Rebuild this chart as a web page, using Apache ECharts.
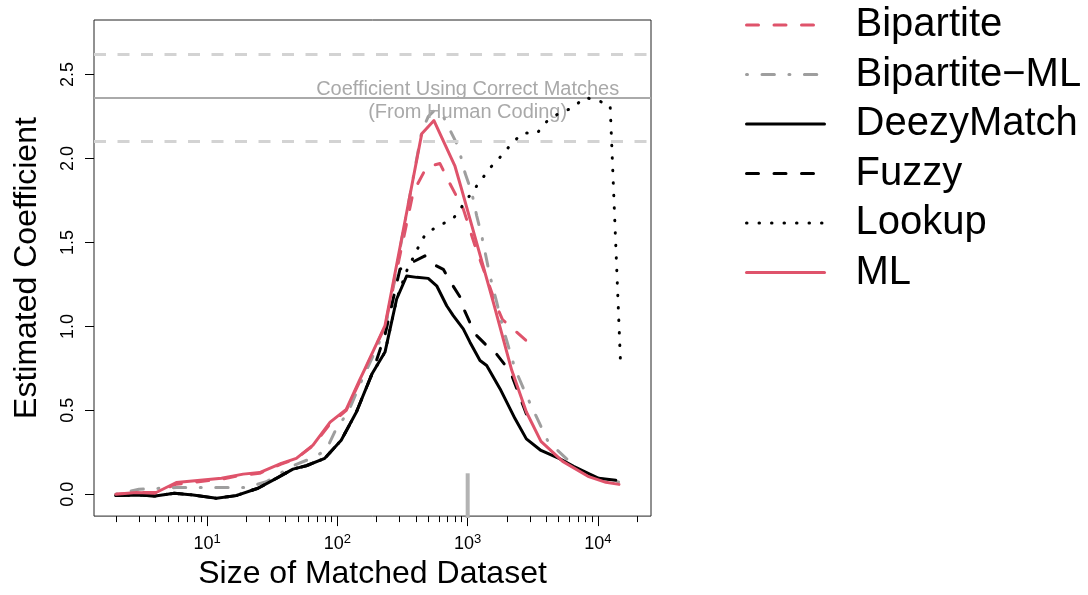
<!DOCTYPE html>
<html>
<head>
<meta charset="utf-8">
<script src="https://cdn.jsdelivr.net/npm/echarts@6/dist/echarts.min.js"></script>
<style>
  html, body { margin: 0; padding: 0; background: #fff; }
  #chart { width: 1088px; height: 595px; }
</style>
</head>
<body>
<div id="chart"></div>
<script>
// dataset size (x) and estimated coefficient (y)
const bipartiteSize = [2, 3, 4, 5.8, 12.9, 18.9, 25.3, 37, 48, 65, 88, 117, 148, 163, 232, 382, 485, 613, 731, 925, 1138, 1670, 1850, 3385];
const bipartiteCoef = [0, 0.01, 0.01, 0.06, 0.09, 0.115, 0.125, 0.18, 0.21, 0.29, 0.42, 0.5, 0.67, 0.74, 1.0, 1.8, 1.95, 1.97, 1.85, 1.7, 1.48, 1.12, 1.04, 0.86];

const bipMLSize = [2, 3, 5.8, 9.3, 20, 28.5, 45.6, 65, 82, 98, 121, 148, 232, 444, 498, 561, 650, 731, 847, 953, 1073, 1172, 1281, 1483, 1670, 1876, 2307, 2821, 4133, 6900, 10100, 17900];
const bipMLCoef = [0, 0.03, 0.04, 0.04, 0.04, 0.075, 0.17, 0.218, 0.263, 0.39, 0.49, 0.65, 0.98, 2.16, 2.25, 2.29, 2.25, 2.17, 2.07, 1.915, 1.8, 1.66, 1.54, 1.3, 1.144, 0.985, 0.748, 0.589, 0.315, 0.154, 0.095, 0.059];

const deezySize = [2, 2.9, 4, 5.6, 7.8, 11.8, 16.7, 24.6, 34, 45.6, 57.7, 80, 107, 140, 185, 232, 285, 340, 406, 498, 578, 690, 775, 925, 1041, 1243, 1399, 1770, 2307, 2820, 3652, 5020, 6500, 10100, 13700];
const deezyCoef = [-0.008, -0.004, -0.01, 0.006, -0.004, -0.024, -0.008, 0.036, 0.095, 0.15, 0.17, 0.214, 0.322, 0.49, 0.72, 0.847, 1.163, 1.3, 1.292, 1.286, 1.242, 1.123, 1.064, 0.985, 0.906, 0.797, 0.767, 0.629, 0.451, 0.33, 0.261, 0.214, 0.166, 0.095, 0.083];

const fuzzySize = [2, 2.9, 4, 5.6, 7.8, 11.8, 16.7, 24.6, 34, 45.6, 57.7, 80, 107, 140, 185, 232, 302, 330, 470, 514, 650, 731, 899, 925, 1073, 1172, 1399, 1620, 1992, 2176, 2850];
const fuzzyCoef = [-0.008, -0.004, -0.01, 0.006, -0.004, -0.024, -0.008, 0.036, 0.095, 0.15, 0.17, 0.214, 0.322, 0.49, 0.72, 0.95, 1.34, 1.36, 1.42, 1.38, 1.34, 1.27, 1.16, 1.11, 1.0, 0.945, 0.886, 0.847, 0.758, 0.71, 0.47];

const lookupSize = [2, 2.9, 4, 5.6, 7.8, 11.8, 16.7, 24.6, 34, 45.6, 57.7, 80, 107, 140, 185, 232, 285, 340, 413, 476, 595, 775, 909, 1073, 1265, 1502, 1824, 2176, 2643, 3421, 4111, 5172, 6350, 7948, 10100, 12400, 14900];
const lookupCoef = [-0.008, -0.004, -0.01, 0.006, -0.004, -0.024, -0.008, 0.036, 0.095, 0.15, 0.17, 0.214, 0.322, 0.49, 0.72, 0.847, 1.163, 1.33, 1.464, 1.553, 1.598, 1.642, 1.717, 1.796, 1.871, 1.948, 2.018, 2.089, 2.152, 2.152, 2.227, 2.275, 2.3, 2.364, 2.344, 2.316, 0.78];

const mlSize = [2, 2.86, 3.96, 5.8, 12.9, 18.9, 25.3, 37.1, 48.4, 65, 88, 117, 148, 163, 232, 444, 551, 799, 899, 1572, 2176, 2821, 3652, 5358, 8380, 11500, 14500];
const mlCoef = [0, 0.01, 0.006, 0.07, 0.095, 0.12, 0.129, 0.184, 0.214, 0.293, 0.43, 0.506, 0.68, 0.748, 1.005, 2.148, 2.226, 1.954, 1.816, 1.144, 0.74, 0.49, 0.315, 0.196, 0.107, 0.071, 0.059];

// reference: coefficient from hand-coded matches and its interval
const trueCoef = 2.356;
const ciLow = 2.10;
const ciHigh = 2.617;
const refSize = 1000;
const refMarkTop = 0.125;

const majorTicks = [10, 100, 1000, 10000];
const minorTicks = [2, 3, 4, 5, 6, 7, 8, 9, 20, 30, 40, 50, 60, 70, 80, 90, 200, 300, 400, 500, 600, 700, 800, 900,
  2000, 3000, 4000, 5000, 6000, 7000, 8000, 9000, 20000];
const yTicks = [0, 0.5, 1, 1.5, 2, 2.5];

const RED = '#DF536B', GRAY = '#9E9E9E';
const FONT = 'Liberation Sans, Arial, sans-serif';
const lg = Math.log10;

const pairs = (xs, ys) => xs.map((x, i) => [lg(x), ys[i]]);

function lineSeries(name, xs, ys, color, type, z) {
  return {
    name, type: 'line', data: pairs(xs, ys), symbol: 'none', z,
    itemStyle: { color },
    lineStyle: { color, width: 3, type, cap: 'round', join: 'round' },
    silent: true
  };
}

const chart = echarts.init(document.getElementById('chart'));

chart.setOption({
  animation: false,
  textStyle: { fontFamily: FONT },
  grid: { left: 94, right: 437, top: 20, bottom: 77, show: true, borderColor: '#222', borderWidth: 1, backgroundColor: 'transparent' },
  legend: {
    data: ['Bipartite', 'Bipartite\u2212ML', 'DeezyMatch', 'Fuzzy', 'Lookup', 'ML'],
    orient: 'vertical', left: 740, top: 0,
    itemWidth: 78, itemHeight: 14, itemGap: 9.5,
    itemStyle: { opacity: 0 },
    lineStyle: { width: 3 },
    textStyle: { fontSize: 40, lineHeight: 40, color: '#000', fontFamily: FONT, padding: [0, 0, 0, 26] },
    selectedMode: false
  },
  xAxis: [{
    type: 'value', min: 0.132, max: 4.407,
    name: 'Size of Matched Dataset', nameLocation: 'middle', nameGap: 40,
    nameTextStyle: { fontSize: 32, color: '#000' },
    axisLine: { show: false, onZero: false },
    axisTick: { show: true, length: 10, customValues: majorTicks.map(lg), lineStyle: { color: '#000' } },
    axisLabel: {
      customValues: majorTicks.map(lg), margin: 17, color: '#000',
      formatter: (v) => '{b|10}{s|' + Math.round(v) + '}',
      rich: { b: { fontSize: 18, color: '#000' }, s: { fontSize: 13, color: '#000', padding: [0, 0, 9, 0] } }
    },
    splitLine: { show: false }
  }, {
    type: 'value', min: 0.132, max: 4.407, position: 'bottom', gridIndex: 0,
    axisLine: { show: false, onZero: false },
    axisTick: { show: true, length: 6, customValues: minorTicks.map(lg), lineStyle: { color: '#000' } },
    axisLabel: { show: false },
    splitLine: { show: false }
  }],
  yAxis: {
    type: 'value', min: -0.13, max: 2.825,
    name: 'Estimated Coefficient', nameLocation: 'middle', nameGap: 51, nameRotate: 90,
    nameTextStyle: { fontSize: 32, color: '#000' },
    axisLine: { show: false, onZero: false },
    axisTick: { show: true, length: 9, customValues: yTicks, lineStyle: { color: '#000' } },
    axisLabel: { customValues: yTicks, rotate: 90, margin: 17, fontSize: 18, color: '#000', formatter: (v) => v.toFixed(1) },
    splitLine: { show: false }
  },
  series: [
    {
      name: 'reference', type: 'line', symbol: 'none', silent: true, z: 1,
      data: [[lg(refSize), -0.3], [lg(refSize), refMarkTop]],
      lineStyle: { color: '#b3b3b3', width: 4 },
      markLine: {
        silent: true, symbol: 'none', label: { show: false },
        data: [
          { yAxis: ciHigh, lineStyle: { color: '#d3d3d3', width: 3, type: [12, 11.5] } },
          { yAxis: ciLow, lineStyle: { color: '#d3d3d3', width: 3, type: [12, 11.5] } },
          { yAxis: trueCoef, lineStyle: { color: '#aaaaaa', width: 2, type: 'solid' } }
        ]
      },
      markPoint: {
        silent: true, symbol: 'circle', symbolSize: 0,
        label: {
          show: true, position: 'inside', color: '#a9a9a9', fontSize: 20, lineHeight: 23, fontFamily: FONT,
          offset: [0, 2],
          formatter: 'Coefficient Using Correct Matches\n(From Human Coding)'
        },
        data: [{ coord: [lg(refSize), trueCoef] }]
      }
    },
    lineSeries('Bipartite', bipartiteSize, bipartiteCoef, RED, [12, 15.5], 2),
    lineSeries('Bipartite\u2212ML', bipMLSize, bipMLCoef, GRAY, [1, 14.5, 12.4, 14.5], 3),
    lineSeries('DeezyMatch', deezySize, deezyCoef, '#000', 'solid', 4),
    lineSeries('Fuzzy', fuzzySize, fuzzyCoef, '#000', [12, 15.5], 5),
    lineSeries('Lookup', lookupSize, lookupCoef, '#000', [0.5, 12], 6),
    lineSeries('ML', mlSize, mlCoef, RED, 'solid', 7)
  ]
});
</script>
</body>
</html>
